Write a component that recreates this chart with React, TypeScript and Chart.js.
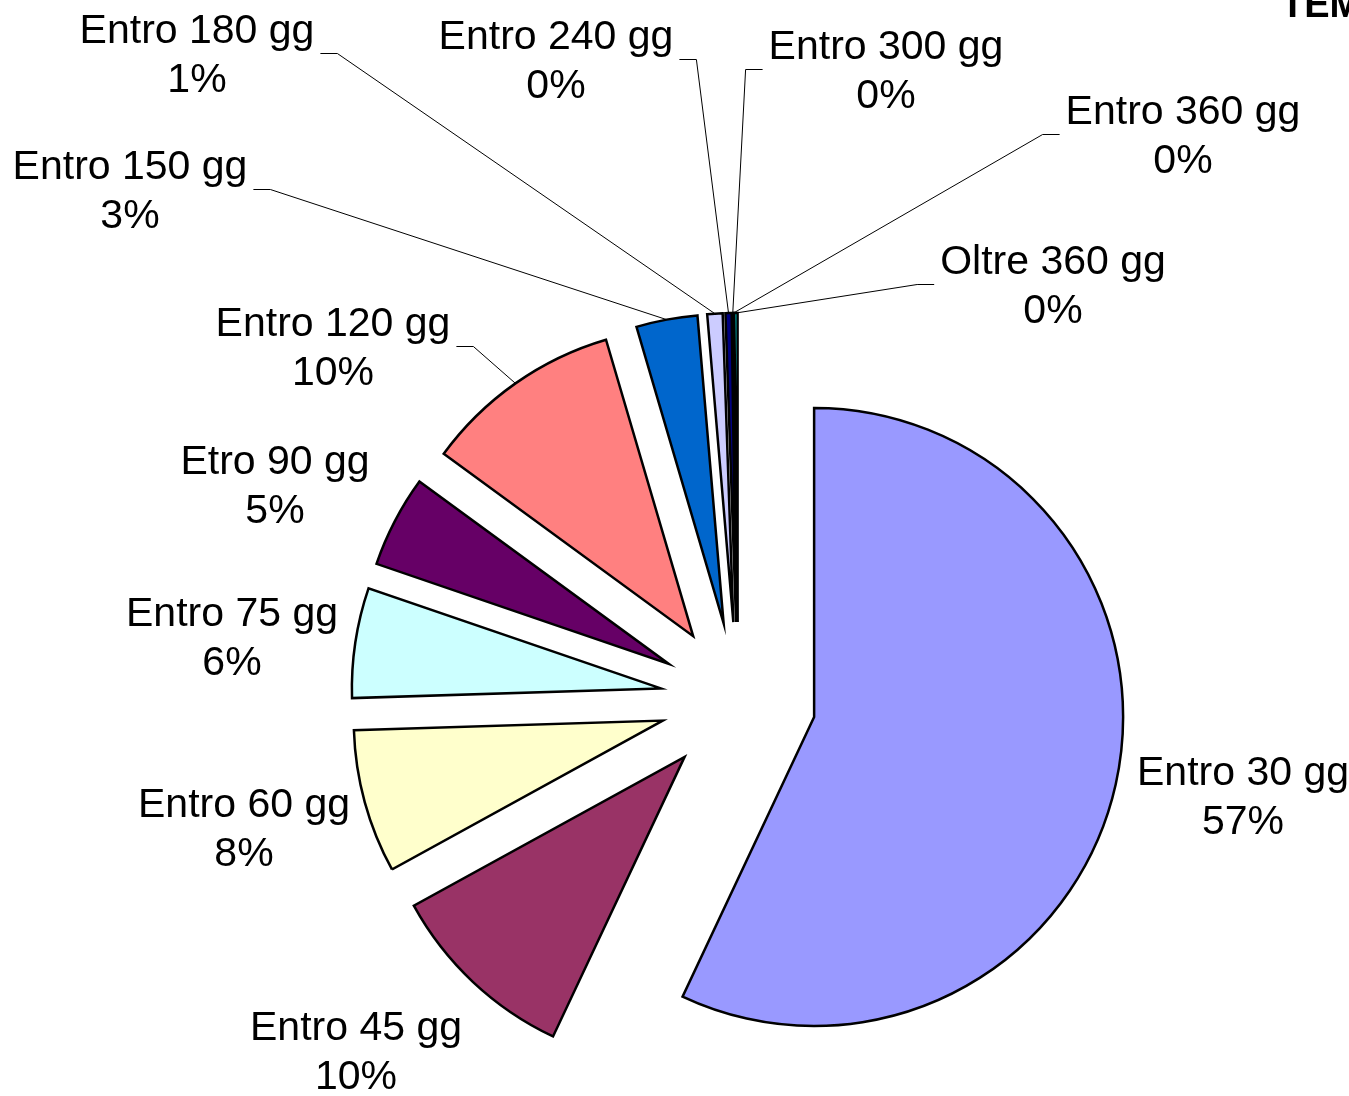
import React, { useEffect, useRef } from "react";
import { Chart, registerables } from "chart.js";

Chart.register(...registerables);

// ---- data ----
const categories = [
  "Entro 30 gg",
  "Entro 45 gg",
  "Entro 60 gg",
  "Entro 75 gg",
  "Etro 90 gg",
  "Entro 120 gg",
  "Entro 150 gg",
  "Entro 180 gg",
  "Entro 240 gg",
  "Entro 300 gg",
  "Entro 360 gg",
  "Oltre 360 gg",
];
const shares = [57.0, 10.0, 7.5, 5.75, 4.8, 10.4, 3.2, 0.8, 0.32, 0.03, 0.03, 0.17];
const sliceColors = [
  "#9999FF",
  "#993366",
  "#FFFFCC",
  "#CCFFFF",
  "#660066",
  "#FF8080",
  "#0066CC",
  "#CCCCFF",
  "#000080",
  "#FF00FF",
  "#FFFF00",
  "#00FFFF",
];
const titleText = "TEMPI MEDI DI PAGAMENTO";

// ---- layout of the data labels (centre x, first-line middle y) ----
const labelCenters: [number, number][] = [
  [1243, 774],
  [356, 1029],
  [244, 806],
  [232, 615],
  [275, 463],
  [333, 325],
  [130, 168],
  [197, 32],
  [556, 38],
  [886, 48],
  [1183, 113],
  [1053, 263],
];
const hasLeader = [false, false, false, false, false, true, true, true, true, true, true, true];

const EXPLODE = 78;
const RADIUS = 309;
const FONT = "41px 'Liberation Sans', Arial, sans-serif";
const LINE_GAP = 49;

const explodePlugin = {
  id: "explodeDraw",
  beforeDatasetDraw(chart: any, args: any) {
    const ctx = chart.ctx;
    args.meta.data.forEach((arc: any) => {
      const mid = (arc.startAngle + arc.endAngle) / 2;
      ctx.save();
      ctx.translate(Math.cos(mid) * EXPLODE, Math.sin(mid) * EXPLODE);
      arc.draw(ctx);
      ctx.restore();
    });
    return false;
  },
};

const labelPlugin = {
  id: "sliceLabels",
  afterDraw(chart: any) {
    const ctx = chart.ctx;
    const meta = chart.getDatasetMeta(0);
    const total = shares.reduce((a, b) => a + b, 0);
    ctx.save();
    ctx.font = FONT;
    ctx.fillStyle = "#000";
    ctx.textAlign = "center";
    ctx.textBaseline = "middle";
    meta.data.forEach((arc: any, i: number) => {
      const [cx, cy] = labelCenters[i];
      const pct = Math.round((shares[i] / total) * 100) + "%";
      const name = categories[i];
      ctx.fillText(name, cx, cy);
      ctx.fillText(pct, cx, cy + LINE_GAP);
      if (hasLeader[i]) {
        const mid = (arc.startAngle + arc.endAngle) / 2;
        const r = arc.outerRadius + EXPLODE;
        const px = arc.x + Math.cos(mid) * r;
        const py = arc.y + Math.sin(mid) * r;
        const w = ctx.measureText(name).width;
        const ly = cy + LINE_GAP / 2 - 3;
        let x1: number, x2: number;
        if (cx < px) {
          x1 = cx + w / 2 + 6;
          x2 = x1 + 17;
        } else {
          x1 = cx - w / 2 - 6;
          x2 = x1 - 17;
        }
        ctx.beginPath();
        ctx.strokeStyle = "#000";
        ctx.lineWidth = 1;
        ctx.moveTo(x1, ly);
        ctx.lineTo(x2, ly);
        ctx.lineTo(px, py);
        ctx.stroke();
      }
    });
    // title (partly outside the canvas, as in the reference)
    ctx.font = "bold 38px 'Liberation Sans', Arial, sans-serif";
    ctx.textAlign = "left";
    ctx.textBaseline = "alphabetic";
    ctx.fillText(titleText, 1281, 17);
    ctx.restore();
  },
};

export default function App() {
  const canvasRef = useRef<HTMLCanvasElement | null>(null);

  useEffect(() => {
    if (!canvasRef.current) return;
    const chart = new Chart(canvasRef.current, {
      type: "pie",
      data: {
        labels: categories,
        datasets: [
          {
            data: shares,
            backgroundColor: sliceColors,
            borderColor: "#000",
            borderWidth: 2.5,
            borderJoinStyle: "miter",
            radius: RADIUS,
          } as any,
        ],
      },
      options: {
        animation: false,
        responsive: true,
        maintainAspectRatio: false,
        layout: { padding: { left: 127, top: 304, right: 0, bottom: 0 } },
        plugins: {
          legend: { display: false },
          tooltip: { enabled: false },
          title: { display: false },
        },
      },
      plugins: [explodePlugin, labelPlugin],
    });
    return () => chart.destroy();
  }, []);

  return (
    <div
      style={{
        position: "fixed",
        left: 0,
        top: 0,
        width: 1349,
        height: 1096,
        background: "#fff",
      }}
    >
      <canvas ref={canvasRef} />
    </div>
  );
}
